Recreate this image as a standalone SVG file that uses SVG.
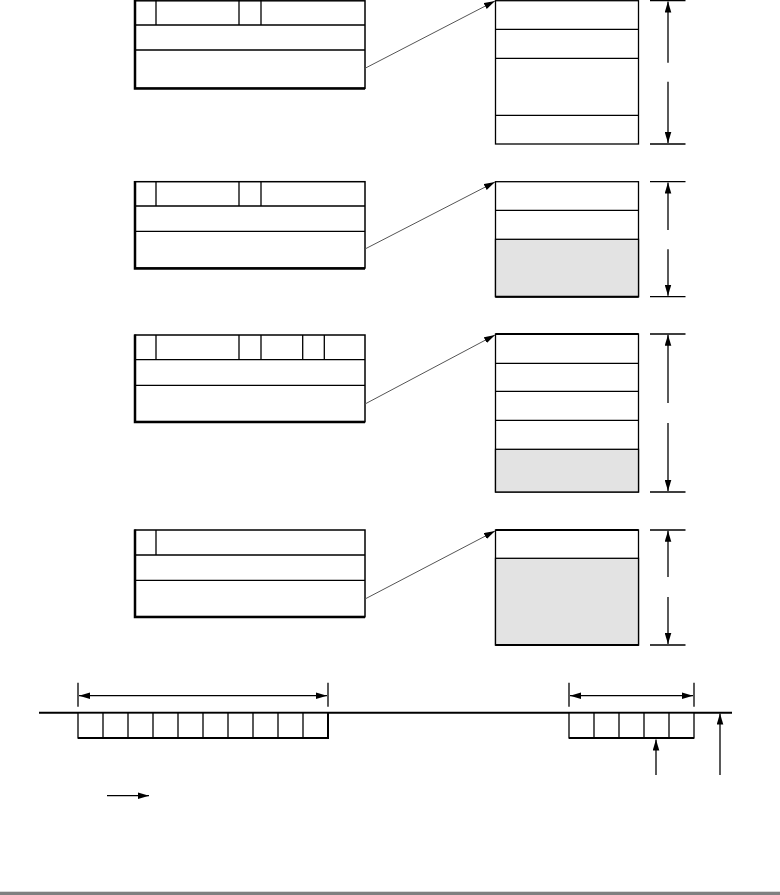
<svg xmlns="http://www.w3.org/2000/svg" width="780" height="895" viewBox="0 0 780 895">
<style>
.box{fill:#fff;stroke:#000;stroke-width:1.5}
.edge{stroke:#000;stroke-width:2.5;fill:none}
.ln{stroke:#000;stroke-width:1.3;fill:none}
.cell{fill:#fff;stroke:#000;stroke-width:1.3}
.shade{fill:#e3e3e3;stroke:#000;stroke-width:1.3}
.conn{stroke:#555;stroke-width:1;fill:none}
.dim{stroke:#000;stroke-width:1.3;fill:none}
</style>
<defs>
<marker id="ah" viewBox="0 0 10 6" refX="10" refY="3" markerWidth="11" markerHeight="7" markerUnits="userSpaceOnUse" orient="auto-start-reverse">
<path d="M0,0 L10,3 L0,6 Z" fill="#000"/>
</marker>
</defs>
<rect x="0" y="0" width="780" height="895" fill="#fff"/>

<g id="header1">
<rect class="box" x="135" y="0.8" width="230" height="87.5"/>
<path class="edge" d="M135,0 V88.5 H365"/>
<path class="ln" d="M135,25 H365 M135,50 H365 M156,0 V25 M239,0 V25 M261,0 V25"/>
</g>
<g id="header2">
<rect class="box" x="135" y="181.7" width="230" height="86.3"/>
<path class="edge" d="M135,181 V268.5 H365"/>
<path class="ln" d="M135,206 H365 M135,231.3 H365 M156,181.7 V206 M239,181.7 V206 M261,181.7 V206"/>
</g>
<g id="header3">
<rect class="box" x="135" y="335" width="230" height="86.7"/>
<path class="edge" d="M135,334.5 V422 H365"/>
<path class="ln" d="M135,359.7 H365 M135,385.3 H365 M156,335 V359.7 M239,335 V359.7 M261,335 V359.7 M302.7,335 V359.7 M324.3,335 V359.7"/>
</g>
<g id="header4">
<rect class="box" x="135" y="530" width="230" height="86.7"/>
<path class="edge" d="M135,529.5 V617 H365"/>
<path class="ln" d="M135,555 H365 M135,580.3 H365 M156,530 V555"/>
</g>

<g id="stack1">
<rect class="cell" x="495.5" y="0.7" width="143" height="143.3"/>
<path class="ln" d="M495.5,29.3 H638.5 M495.5,58.3 H638.5 M495.5,115.3 H638.5"/>
</g>
<g id="stack2">
<rect class="cell" x="495.5" y="181.7" width="143" height="115"/>
<rect class="shade" x="495.5" y="239.3" width="143" height="57.4"/>
<path class="ln" d="M495.5,210.3 H638.5"/>
<path class="edge" d="M495.5,296.7 H638.5" style="stroke-width:2"/>
</g>
<g id="stack3">
<rect class="cell" x="495.5" y="334" width="143" height="158"/>
<rect class="shade" x="495.5" y="449.3" width="143" height="42.7"/>
<path class="ln" d="M495.5,363.3 H638.5 M495.5,391.3 H638.5 M495.5,420.3 H638.5"/>
<path class="edge" d="M495.5,334 H638.5" style="stroke-width:2"/>
</g>
<g id="stack4">
<rect class="cell" x="495.5" y="530" width="143" height="115"/>
<rect class="shade" x="495.5" y="558.3" width="143" height="86.7"/>
<path class="edge" d="M495.5,530 H638.5 M495.5,645 H638.5" style="stroke-width:2"/>
</g>

<g id="dims">
<path class="dim" d="M650,0.7 H685.5 M650,144 H685.5"/>
<path class="dim" d="M668,62.7 V1.5" marker-end="url(#ah)"/>
<path class="dim" d="M668,81.7 V143" marker-end="url(#ah)"/>
<path class="dim" d="M650,181.7 H685.5 M650,296.7 H685.5"/>
<path class="dim" d="M668,230 V182.5" marker-end="url(#ah)"/>
<path class="dim" d="M668,249.3 V295.7" marker-end="url(#ah)"/>
<path class="dim" d="M650,334 H685.5 M650,492 H685.5"/>
<path class="dim" d="M668,403 V334.8" marker-end="url(#ah)"/>
<path class="dim" d="M668,423 V491" marker-end="url(#ah)"/>
<path class="dim" d="M650,530 H685.5 M650,645 H685.5"/>
<path class="dim" d="M668,577 V530.8" marker-end="url(#ah)"/>
<path class="dim" d="M668,597 V644" marker-end="url(#ah)"/>
</g>

<g id="connectors">
<path class="conn" d="M365,68.3 L495,1" marker-end="url(#ah)"/>
<path class="conn" d="M365,249 L495,182" marker-end="url(#ah)"/>
<path class="conn" d="M365,404 L495,335" marker-end="url(#ah)"/>
<path class="conn" d="M365,599 L495,531" marker-end="url(#ah)"/>
</g>

<g id="timeline">
<path d="M39,712.7 H732" stroke="#000" stroke-width="2" fill="none"/>
<rect class="cell" x="78" y="713" width="250" height="25"/>
<path class="ln" d="M103,713 V738 M128,713 V738 M153,713 V738 M178,713 V738 M203,713 V738 M228,713 V738 M253,713 V738 M278,713 V738 M303,713 V738"/>
<path class="edge" d="M78,738 H328 V713" style="stroke-width:2"/>
<path class="dim" d="M78,682.7 V706.7 M328,682.7 V706.7"/>
<path class="dim" d="M79,695.7 H327" marker-start="url(#ah)" marker-end="url(#ah)"/>
<rect class="cell" x="569" y="713" width="125" height="25"/>
<path class="ln" d="M594,713 V738 M619,713 V738 M644,713 V738 M669,713 V738"/>
<path class="edge" d="M569,738 H694" style="stroke-width:2"/>
<path class="dim" d="M569,682.7 V706.7 M694,682.7 V706.7"/>
<path class="dim" d="M570,695.7 H693" marker-start="url(#ah)" marker-end="url(#ah)"/>
<path class="dim" d="M656,775 V739.5" marker-end="url(#ah)"/>
<path class="dim" d="M720,775 V713.5" marker-end="url(#ah)"/>
<path class="dim" d="M107,795.7 H149" marker-end="url(#ah)"/>
</g>

<rect x="0" y="891.7" width="780" height="3.3" fill="#808080"/>
</svg>
